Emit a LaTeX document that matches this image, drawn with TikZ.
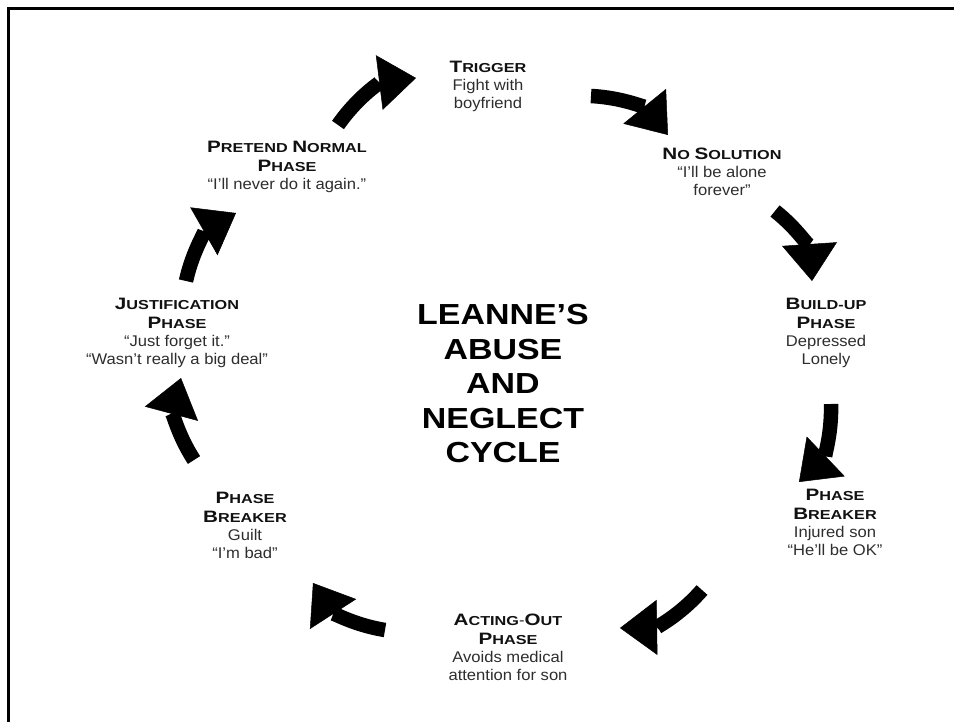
\documentclass[tikz,border=0pt]{standalone}
\usepackage{fontspec}
\setmainfont{Liberation Sans}[FakeStretch=1.07]
\newfontfamily\hfont{Liberation Sans}[FakeStretch=1.25]
\newfontfamily\tfont{Liberation Sans}[FakeStretch=1.17]
\usetikzlibrary{arrows.meta}
\definecolor{bodygray}{HTML}{2E2E2E}
\definecolor{headblack}{HTML}{111111}
\newcommand\hsc[2]{{\hfont\bfseries\color{headblack}{\fontsize{16.5}{18}\selectfont #1}{\fontsize{13}{18}\selectfont #2}}}
\tikzset{
  lbl/.style={align=center, font=\fontsize{15.5}{18}\selectfont, text=bodygray, inner sep=0pt},
  ttl/.style={align=center, font=\tfont\bfseries\fontsize{29}{34.5}\selectfont, text=black, inner sep=0pt},
  cyc/.style={line width=14.5pt, draw=black, -{Triangle[width=55pt,length=37pt,line width=0.5pt]}, bend left=24},
  frame/.style={line width=3pt, draw=black}
}
\begin{document}
\begin{tikzpicture}[x=1pt,y=1pt]
\useasboundingbox (0,0) rectangle (954,-722);
\fill[white] (0,0) rectangle (954,-722);
\coordinate (fTL) at (8.5,-8.5);
\coordinate (fTR) at (954,-8.5);
\coordinate (fBL) at (8.5,-722);
\draw[frame] (fTR) -- (fTL) -- (fBL);

\node[ttl] (title) at (503,-384) {LEANNE’S\\ABUSE\\AND\\NEGLECT\\CYCLE};

\node[lbl] (trig) at (488,-86) {\hsc{T}{RIGGER}\\Fight with\\boyfriend};
\node[lbl] (nosol) at (722,-172) {\hsc{N}{O} \hsc{S}{OLUTION}\\“I’ll be alone\\forever”};
\node[lbl] (build) at (826,-333) {\hsc{B}{UILD-UP}\\[1pt]\hsc{P}{HASE}\\Depressed\\Lonely};
\node[lbl] (pbr) at (835,-522) {\hsc{P}{HASE}\\[1pt]\hsc{B}{REAKER}\\Injured son\\“He’ll  be OK”};
\node[lbl] (act) at (508,-647) {\hsc{A}{CTING}-\hsc{O}{UT}\\[1pt]\hsc{P}{HASE}\\Avoids medical\\attention for son};
\node[lbl] (pbl) at (245,-525) {\hsc{P}{HASE}\\[1pt]\hsc{B}{REAKER}\\Guilt\\“I’m bad”};
\node[lbl] (just) at (177,-333) {\hsc{J}{USTIFICATION}\\[1pt]\hsc{P}{HASE}\\“Just forget it.”\\“Wasn’t really a big deal”};
\node[lbl] (pret) at (287,-167) {\hsc{P}{RETEND} \hsc{N}{ORMAL}\\[1pt]\hsc{P}{HASE}\\“I’ll never do it again.”};

\coordinate (a1s) at (338,-125); \coordinate (a1e) at (416,-78);
\coordinate (a2s) at (591,-96);  \coordinate (a2e) at (668,-135);
\coordinate (a3s) at (775,-211); \coordinate (a3e) at (812,-281);
\coordinate (a4s) at (831,-404); \coordinate (a4e) at (799,-482);
\coordinate (a5s) at (702,-590); \coordinate (a5e) at (620,-628);
\coordinate (a6s) at (385,-630); \coordinate (a6e) at (313,-583);
\coordinate (a7s) at (194,-460); \coordinate (a7e) at (181,-378);
\coordinate (a8s) at (186,-281); \coordinate (a8e) at (236,-213);

\draw[cyc] (a1s) to (a1e);
\draw[cyc] (a2s) to (a2e);
\draw[cyc] (a3s) to (a3e);
\draw[cyc] (a4s) to (a4e);
\draw[cyc] (a5s) to (a5e);
\draw[cyc] (a6s) to (a6e);
\draw[cyc] (a7s) to (a7e);
\draw[cyc] (a8s) to (a8e);
\end{tikzpicture}
\end{document}
